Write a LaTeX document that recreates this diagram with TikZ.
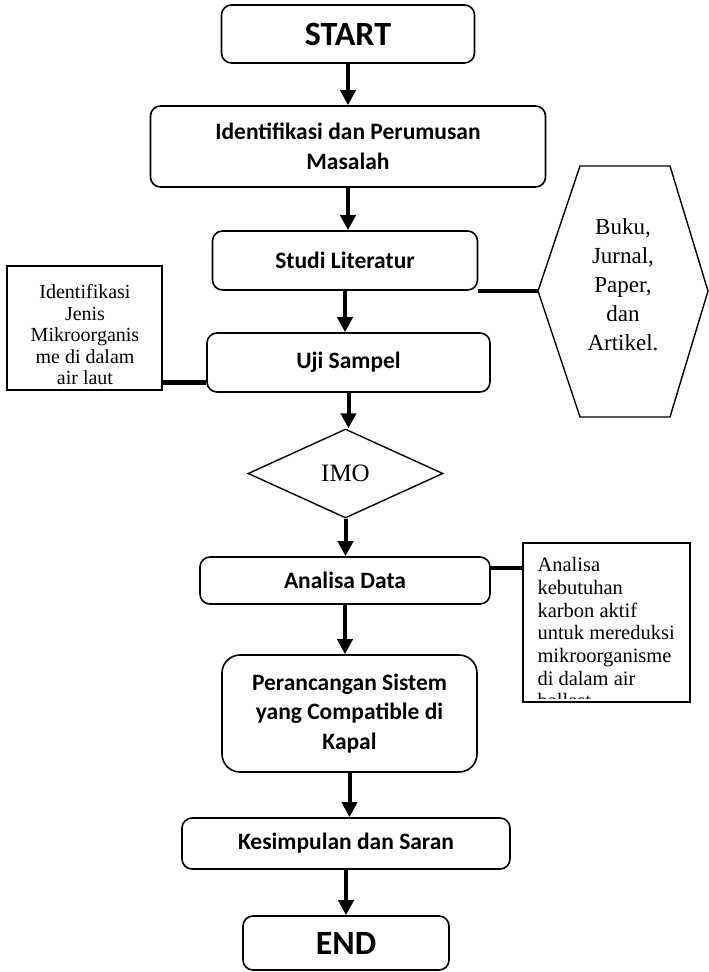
\documentclass[tikz,border=0pt]{standalone}
\usepackage{fontspec}
\setmainfont{Liberation Serif}
\newfontfamily\calibfont{Carlito}
\usetikzlibrary{positioning,arrows.meta,shapes.geometric}
\tikzset{
  proc/.style={draw, line width=1.6pt, rounded corners=10pt, align=center,
               inner sep=0pt, font=\calibfont\bfseries\fontsize{23.5}{29.5}\selectfont},
  term/.style={proc, font=\calibfont\bfseries\fontsize{34}{38}\selectfont},
  note/.style={draw, line width=1.4pt, inner sep=0pt},
  ntext/.style={align=center, inner sep=0pt, font=\fontsize{20}{21.5}\selectfont},
  ar/.style={-{Triangle[width=15pt,length=15pt]}, line width=4pt},
  ln/.style={line width=4.5pt}
}
\begin{document}
\begin{tikzpicture}[x=1pt,y=-1pt]
\useasboundingbox (0,0) rectangle (709,972);
% main column
\node[term, minimum width=253pt, minimum height=58pt] (start) at (348,34) {START};
\node[proc, minimum width=395pt, minimum height=81pt] (ident) at (348,146.5) {Identifikasi dan Perumusan\\Masalah};
\node[proc, minimum width=265pt, minimum height=59pt] (studi) at (345,260.5) {Studi Literatur};
\node[proc, minimum width=283pt, minimum height=59pt] (uji) at (348.5,362.5) {Uji Sampel};
\node[draw, diamond, line width=1.4pt, minimum width=195pt, minimum height=89pt,
      inner sep=0pt, font=\fontsize{25}{30}\selectfont] (imo) at (345.5,473.5) {IMO};
\node[proc, minimum width=290pt, minimum height=47pt] (analisa) at (345,580.5) {Analisa Data};
\node[proc, rounded corners=18pt, minimum width=255pt, minimum height=117pt] (peran) at (349.5,713.5)
  {Perancangan Sistem\\yang Compatible di\\Kapal};
\node[proc, minimum width=328pt, minimum height=51pt] (kesim) at (346,843.5) {Kesimpulan dan Saran};
\node[term, minimum width=206pt, minimum height=54pt] (end) at (346,943) {END};
% side notes
\node[note, minimum width=155pt, minimum height=124pt] (jenis) at (84.5,328) {};
\node[ntext] (jenistxt) at (85,335) {Identifikasi\\Jenis\\Mikroorganis\\me di dalam\\air laut};
\coordinate (hexL) at (538,291);
\draw[line width=1.4pt] (hexL) -- (580,166) -- (670,166) -- (708,291) -- (670,417) -- (580,417) -- cycle;
\node[align=center, inner sep=0pt, font=\fontsize{23}{29}\selectfont] (lit) at (623,285)
  {Buku,\\Jurnal,\\Paper,\\dan\\Artikel.};
\node[note, minimum width=167pt, minimum height=159pt] (karbon) at (606.5,622.5) {};
\begin{scope}
  \clip (karbon.north west) rectangle ([yshift=4pt]karbon.south east);
  \node[anchor=north west, align=left, inner sep=0pt, font=\fontsize{20.5}{22.7}\selectfont] (karbontxt)
    at ([xshift=15pt,yshift=-15pt]karbon.north west)
    {Analisa\\kebutuhan\\karbon aktif\\untuk mereduksi\\mikroorganisme\\di dalam air\\ballast};
\end{scope}
\coordinate (jenisR) at ([yshift=8pt]jenis.south east);
\coordinate (anaR) at ([yshift=12.5pt]analisa.east);
% connectors
\draw[ar] (start.south) -- (start.south |- ident.north);
\draw[ar] (ident.south) -- (ident.south |- studi.north);
\draw[ar] (studi.south) -- (studi.south |- uji.north);
\draw[ar] (uji.south) -- (uji.south |- imo.north);
\draw[ar] (imo.south) -- (imo.south |- analisa.north);
\draw[ar] (analisa.south) -- (analisa.south |- peran.north);
\draw[ar] (peran.south) -- (peran.south |- kesim.north);
\draw[ar] (kesim.south) -- (kesim.south |- end.north);
\draw[ln] (studi.east |- hexL) -- (hexL);
\draw[ln] (jenisR) -- (jenisR -| uji.west);
\draw[ln] (anaR) -- (anaR -| karbon.west);
\end{tikzpicture}
\end{document}
